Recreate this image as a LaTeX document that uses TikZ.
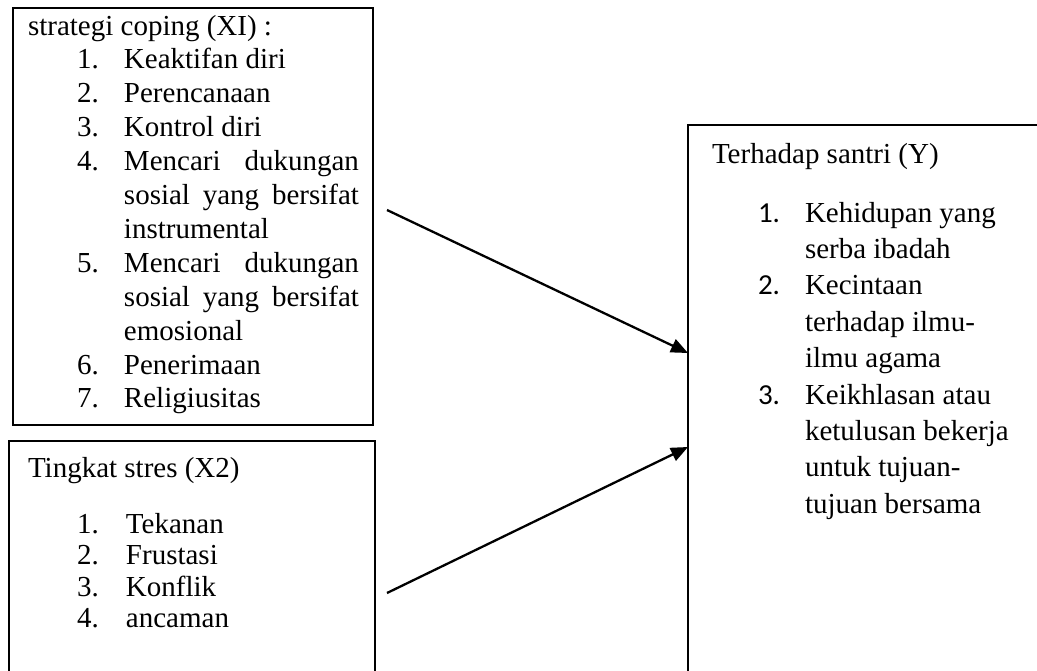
\documentclass[tikz,border=0pt]{standalone}
\usepackage{fontspec}
\setmainfont{Liberation Serif}
\newfontfamily\numfont{Carlito}
\usepackage{array}
\usetikzlibrary{arrows.meta}
\begin{document}
\begin{tikzpicture}[x=1pt,y=-1pt,
  frame/.style={draw=black, line width=2pt, rectangle, inner sep=0pt, outer sep=0pt, anchor=north west},
  txt/.style={anchor=base west, inner sep=0pt, outer sep=0pt, font=\fontsize{29}{33.9}\selectfont},
  conn/.style={line width=2.3pt, -{Triangle[length=17pt,width=14pt]}}]
\clip (0,0) rectangle (1037,670);
\fill[white] (0,0) rectangle (1037,670);
% boxes
\node[frame, minimum width=360pt, minimum height=417pt] (bx1) at (13,8) {};
\node[frame, line width=1.6pt, minimum width=366pt, minimum height=300pt] (bx2) at (9,441) {};
\node[frame, minimum width=400pt, minimum height=600pt] (bx3) at (688,125) {};
% texts
\node[txt] (t1) at (28,35) {\begin{tabular}[t]{@{}p{49pt}@{}p{47pt}@{}p{235pt}@{}}
\multicolumn{3}{@{}l@{}}{strategi coping (XI) :}\\
& 1. & Keaktifan diri\\
& 2. & Perencanaan\\
& 3. & Kontrol diri\\
& 4. & Mencari dukungan\linebreak sosial yang bersifat\linebreak instrumental\\
& 5. & Mencari dukungan\linebreak sosial yang bersifat\linebreak emosional\\
& 6. & Penerimaan\\
& 7. & Religiusitas\\
\end{tabular}};
\node[txt, font=\fontsize{29}{31.5}\selectfont] (t2) at (28,477) {\begin{tabular}[t]{@{}p{49pt}@{}p{49pt}@{}l@{}}
\multicolumn{3}{@{}l@{}}{Tingkat stres (X2)}\\[24.5pt]
& 1. & Tekanan\\
& 2. & Frustasi\\
& 3. & Konflik\\
& 4. & ancaman\\
\end{tabular}};
\node[txt, font=\fontsize{29}{36.4}\selectfont] (t3) at (712,163) {\begin{tabular}[t]{@{}p{46pt}@{}p{47pt}@{}>{\raggedright\arraybackslash}p{215pt}@{}}
\multicolumn{3}{@{}l@{}}{Terhadap santri (Y)}\\[22.6pt]
& {\numfont 1.} & Kehidupan yang\newline serba ibadah\\
& {\numfont 2.} & Kecintaan\newline terhadap ilmu-\newline ilmu agama\\
& {\numfont 3.} & Keikhlasan atau\newline ketulusan bekerja\newline untuk tujuan-\newline tujuan bersama\\
\end{tabular}};
% connectors
\coordinate (a1s) at (387,210);
\coordinate (a1e) at (688,353);
\coordinate (a2s) at (387,593);
\coordinate (a2e) at (688,447);
\draw[conn] (a1s) -- (a1e);
\draw[conn] (a2s) -- (a2e);
\end{tikzpicture}
\end{document}
